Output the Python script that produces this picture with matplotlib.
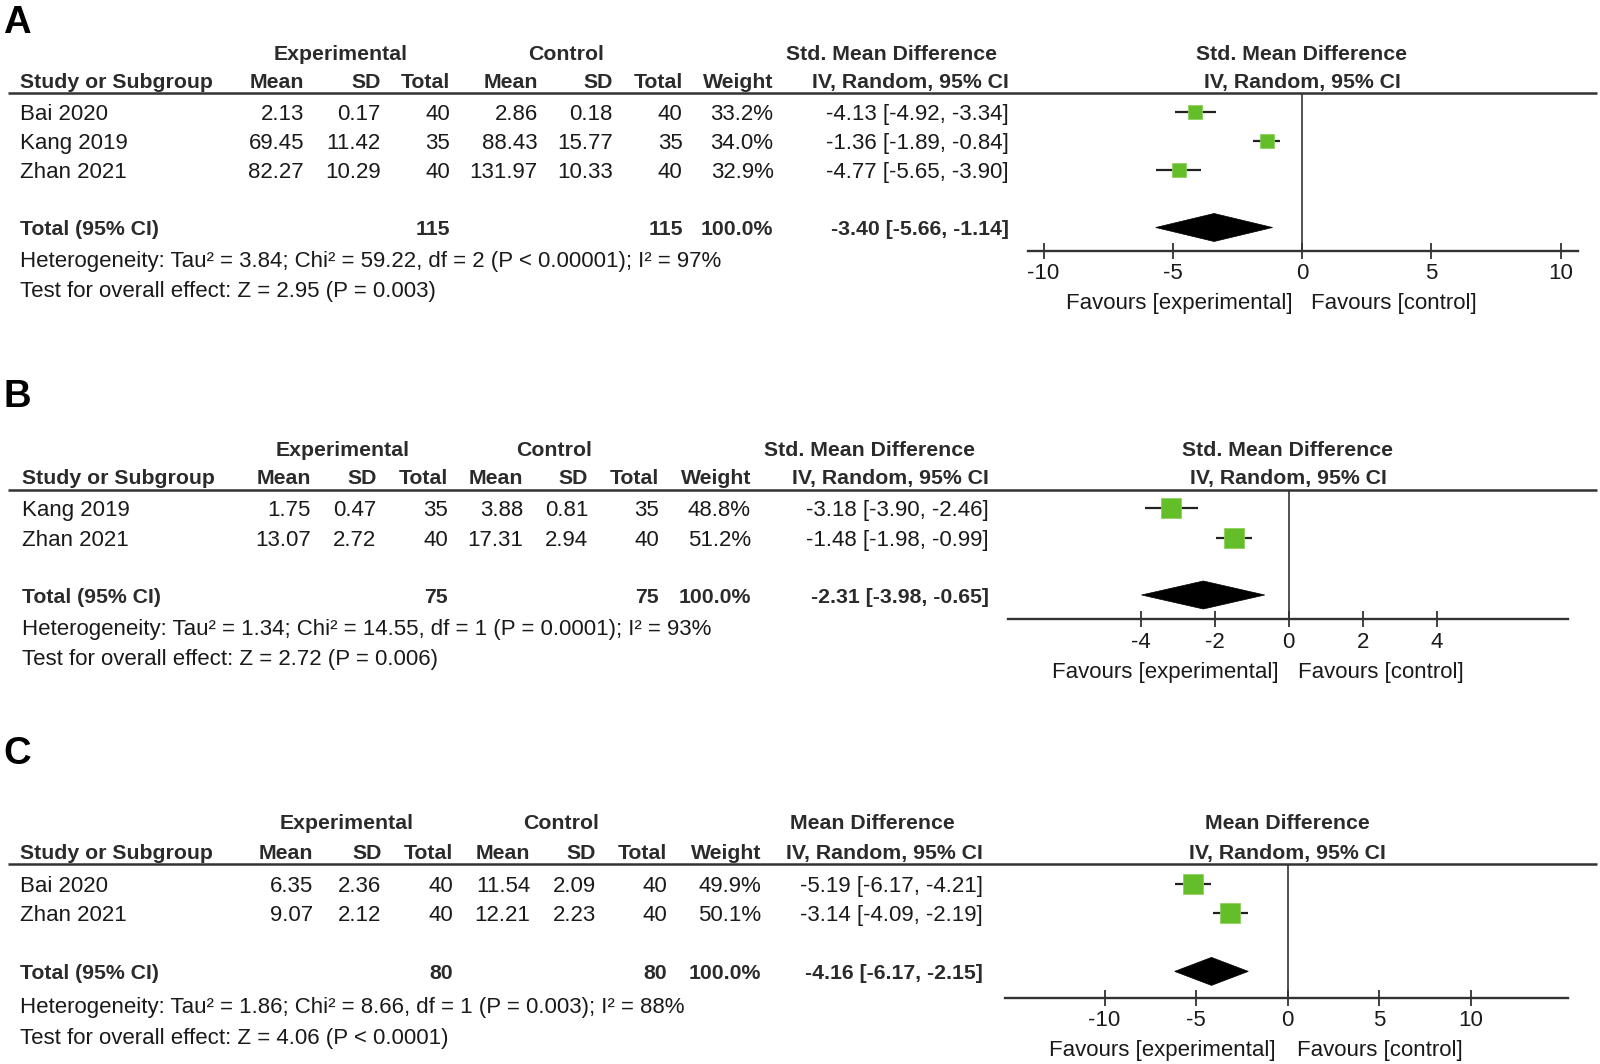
import matplotlib
matplotlib.use("Agg")
import matplotlib.pyplot as plt
from matplotlib.patches import Polygon

plt.rcParams['font.family'] = ['Liberation Sans', 'DejaVu Sans']
plt.rcParams['axes.unicode_minus'] = False

# ---------------- data ----------------
A_studies = ["Bai 2020", "Kang 2019", "Zhan 2021"]
A_exp_mean = [2.13, 69.45, 82.27]
A_exp_sd = [0.17, 11.42, 10.29]
A_exp_n = [40, 35, 40]
A_ctl_mean = [2.86, 88.43, 131.97]
A_ctl_sd = [0.18, 15.77, 10.33]
A_ctl_n = [40, 35, 40]
A_weight = [33.2, 34.0, 32.9]
A_est = [-4.13, -1.36, -4.77]
A_lo = [-4.92, -1.89, -5.65]
A_hi = [-3.34, -0.84, -3.90]
A_total = [-3.40, -5.66, -1.14]
A_total_n = [115, 115]
A_total_weight = 100.0
A_ticks = [-10, -5, 0, 5, 10]
A_measure = "Std. Mean Difference"
A_het = "Heterogeneity: Tau\u00b2 = 3.84; Chi\u00b2 = 59.22, df = 2 (P < 0.00001); I\u00b2 = 97%"
A_test = "Test for overall effect: Z = 2.95 (P = 0.003)"

B_studies = ["Kang 2019", "Zhan 2021"]
B_exp_mean = [1.75, 13.07]
B_exp_sd = [0.47, 2.72]
B_exp_n = [35, 40]
B_ctl_mean = [3.88, 17.31]
B_ctl_sd = [0.81, 2.94]
B_ctl_n = [35, 40]
B_weight = [48.8, 51.2]
B_est = [-3.18, -1.48]
B_lo = [-3.90, -1.98]
B_hi = [-2.46, -0.99]
B_total = [-2.31, -3.98, -0.65]
B_total_n = [75, 75]
B_total_weight = 100.0
B_ticks = [-4, -2, 0, 2, 4]
B_measure = "Std. Mean Difference"
B_het = "Heterogeneity: Tau\u00b2 = 1.34; Chi\u00b2 = 14.55, df = 1 (P = 0.0001); I\u00b2 = 93%"
B_test = "Test for overall effect: Z = 2.72 (P = 0.006)"

C_studies = ["Bai 2020", "Zhan 2021"]
C_exp_mean = [6.35, 9.07]
C_exp_sd = [2.36, 2.12]
C_exp_n = [40, 40]
C_ctl_mean = [11.54, 12.21]
C_ctl_sd = [2.09, 2.23]
C_ctl_n = [40, 40]
C_weight = [49.9, 50.1]
C_est = [-5.19, -3.14]
C_lo = [-6.17, -4.09]
C_hi = [-4.21, -2.19]
C_total = [-4.16, -6.17, -2.15]
C_total_n = [80, 80]
C_total_weight = 100.0
C_ticks = [-10, -5, 0, 5, 10]
C_measure = "Mean Difference"
C_het = "Heterogeneity: Tau\u00b2 = 1.86; Chi\u00b2 = 8.66, df = 1 (P = 0.003); I\u00b2 = 88%"
C_test = "Test for overall effect: Z = 4.06 (P < 0.0001)"

# ---------------- layout (pixel positions) ----------------
W, H = 1600, 1064
FS = 16.0        # regular text
FSB = 15.3       # bold header text
TXT = '#1a1a1a'
HDR = '#2b2b2b'
LINE = '#333333'
GREEN = '#64be2a'

layouts = {
    'A': dict(letter_base=33, h1=52, h2=80.6, line=93, row0=112.2, pitch=29.1, total=227.5,
              het=259, test=288.8, study_x=20.4,
              cols=[304, 380.6, 450, 537.8, 613, 682.7, 773.5, 1009],
              exp_c=341, ctl_c=566, eff_c=891, plot_c=1302,
              zero=1302, ppu=25.85, ax_l=1027.6, ax_r=1578, axis_y=251,
              fav_y=301, fav_l=1293, fav_r=1311),
    'B': dict(letter_base=407, h1=448, h2=476.5, line=490, row0=508, pitch=29.8, total=595,
              het=627.5, test=657, study_x=22.5,
              cols=[311, 376.5, 448, 523.5, 588, 659, 751, 989],
              exp_c=343, ctl_c=553.6, eff_c=870, plot_c=1288,
              zero=1288.8, ppu=37.0, ax_l=1008, ax_r=1568, axis_y=619.4,
              fav_y=670, fav_l=1278.6, fav_r=1298),
    'C': dict(letter_base=764, h1=821.4, h2=851, line=864, row0=883.7, pitch=29.6, total=971.4,
              het=1005, test=1035.7, study_x=20.4,
              cols=[313, 381.6, 453, 530.6, 596, 667.3, 761, 982.7],
              exp_c=347, ctl_c=560.7, eff_c=872.4, plot_c=1287,
              zero=1287.7, ppu=18.32, ax_l=1005, ax_r=1568, axis_y=998,
              fav_y=1048, fav_l=1275.5, fav_r=1297),
}

panels = [
    dict(letter='A', studies=A_studies, em=A_exp_mean, es=A_exp_sd, en=A_exp_n,
         cm=A_ctl_mean, cs=A_ctl_sd, cn=A_ctl_n, w=A_weight, est=A_est, lo=A_lo, hi=A_hi,
         total=A_total, total_n=A_total_n, total_w=A_total_weight, ticks=A_ticks,
         measure=A_measure, het=A_het, test=A_test),
    dict(letter='B', studies=B_studies, em=B_exp_mean, es=B_exp_sd, en=B_exp_n,
         cm=B_ctl_mean, cs=B_ctl_sd, cn=B_ctl_n, w=B_weight, est=B_est, lo=B_lo, hi=B_hi,
         total=B_total, total_n=B_total_n, total_w=B_total_weight, ticks=B_ticks,
         measure=B_measure, het=B_het, test=B_test),
    dict(letter='C', studies=C_studies, em=C_exp_mean, es=C_exp_sd, en=C_exp_n,
         cm=C_ctl_mean, cs=C_ctl_sd, cn=C_ctl_n, w=C_weight, est=C_est, lo=C_lo, hi=C_hi,
         total=C_total, total_n=C_total_n, total_w=C_total_weight, ticks=C_ticks,
         measure=C_measure, het=C_het, test=C_test),
]

fig = plt.figure(figsize=(W / 100, H / 100), dpi=100)
fig.patch.set_facecolor('white')
ax0 = fig.add_axes([0, 0, 1, 1])
ax0.set_xlim(0, W)
ax0.set_ylim(H, 0)
ax0.axis('off')


def t(x, y, s, ha='left', bold=False):
    size = FSB if bold else FS
    off = 0.358 * size * 100 / 72.0
    ax0.text(x, y + off, s, ha=ha, va='baseline', fontsize=size,
             fontweight='bold' if bold else 'normal',
             color=HDR if bold else TXT)


for p in panels:
    L = layouts[p['letter']]
    ax0.text(3, L['letter_base'], p['letter'], fontsize=27.5, fontweight='bold',
             ha='left', va='baseline', color='black')
    # header row 1
    t(L['exp_c'], L['h1'], 'Experimental', ha='center', bold=True)
    t(L['ctl_c'], L['h1'], 'Control', ha='center', bold=True)
    t(L['eff_c'], L['h1'], p['measure'], ha='center', bold=True)
    t(L['plot_c'], L['h1'], p['measure'], ha='center', bold=True)
    # header row 2
    t(L['study_x'], L['h2'], 'Study or Subgroup', bold=True)
    heads = ['Mean', 'SD', 'Total', 'Mean', 'SD', 'Total', 'Weight', 'IV, Random, 95% CI']
    for cx, hname in zip(L['cols'], heads):
        t(cx, L['h2'], hname, ha='right', bold=True)
    t(L['plot_c'], L['h2'], 'IV, Random, 95% CI', ha='center', bold=True)
    ax0.plot([8, 1597], [L['line'], L['line']], color=LINE, lw=1.8, solid_capstyle='butt')

    # study rows
    for i, name in enumerate(p['studies']):
        y = L['row0'] + i * L['pitch']
        vals = [f"{p['em'][i]:.2f}", f"{p['es'][i]:.2f}", f"{p['en'][i]}",
                f"{p['cm'][i]:.2f}", f"{p['cs'][i]:.2f}", f"{p['cn'][i]}",
                f"{p['w'][i]:.1f}%",
                f"{p['est'][i]:.2f} [{p['lo'][i]:.2f}, {p['hi'][i]:.2f}]"]
        t(L['study_x'], y, name)
        for cx, v in zip(L['cols'], vals):
            t(cx, y, v, ha='right')
    # total row
    yt = L['total']
    t(L['study_x'], yt, 'Total (95% CI)', bold=True)
    t(L['cols'][2], yt, str(p['total_n'][0]), ha='right', bold=True)
    t(L['cols'][5], yt, str(p['total_n'][1]), ha='right', bold=True)
    t(L['cols'][6], yt, f"{p['total_w']:.1f}%", ha='right', bold=True)
    te, tl, th = p['total']
    t(L['cols'][7], yt, f"{te:.2f} [{tl:.2f}, {th:.2f}]", ha='right', bold=True)
    t(L['study_x'], L['het'], p['het'])
    t(L['study_x'], L['test'], p['test'])

    # forest plot axes
    xl = (L['ax_l'] - L['zero']) / L['ppu']
    xr = (L['ax_r'] - L['zero']) / L['ppu']
    ax = fig.add_axes([L['ax_l'] / W, 1 - L['axis_y'] / H,
                       (L['ax_r'] - L['ax_l']) / W, (L['axis_y'] - L['line']) / H])
    ax.set_xlim(xl, xr)
    ax.set_ylim(L['axis_y'], L['line'])
    ax.patch.set_alpha(0)
    for s in ['top', 'left', 'right']:
        ax.spines[s].set_visible(False)
    ax.spines['bottom'].set_color(LINE)
    ax.spines['bottom'].set_linewidth(1.7)
    ax.set_yticks([])
    ax.set_xticks(p['ticks'])
    ax.set_xticklabels([str(v) for v in p['ticks']])
    ax.tick_params(axis='x', direction='inout', length=11.5, width=1.3, color=LINE,
                   labelsize=FS, labelcolor=TXT, pad=3)
    ax.axvline(0, color=LINE, lw=1.2)
    for i in range(len(p['studies'])):
        y = L['row0'] + i * L['pitch']
        ax.plot([p['lo'][i], p['hi'][i]], [y, y], color='#222222', lw=1.6, solid_capstyle='butt')
        side_px = 0.4 * p['w'][i]
        ax.plot([p['est'][i]], [y], marker='s', markersize=side_px * 0.72,
                color=GREEN, markeredgecolor='#8fd060', markeredgewidth=0.6, linestyle='none')
    hh = 14
    ax.add_patch(Polygon([[tl, yt], [te, yt - hh], [th, yt], [te, yt + hh]],
                         closed=True, facecolor='black', edgecolor='black', lw=0.5))
    # favours labels
    t(L['fav_l'], L['fav_y'], 'Favours [experimental]', ha='right')
    t(L['fav_r'], L['fav_y'], 'Favours [control]', ha='left')

fig.savefig('out.png', dpi=100, facecolor='white')
